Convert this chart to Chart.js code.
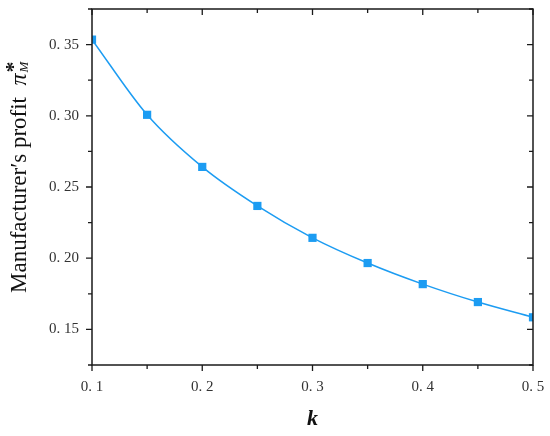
<!DOCTYPE html>
<html>
<head>
<meta charset="utf-8">
<script src="https://cdn.jsdelivr.net/npm/chart.js@4.4.1/dist/chart.umd.min.js"></script>
<style>
  html, body { margin: 0; padding: 0; background: #fff; }
  #wrap { width: 550px; height: 436px; }
</style>
</head>
<body>
<div id="wrap"><canvas id="profitChart"></canvas></div>
<script>
// k values and manufacturer's profit
var kValues = [0.1, 0.15, 0.2, 0.25, 0.3, 0.35, 0.4, 0.45, 0.5];
var profit = [0.3535, 0.3007, 0.2641, 0.2367, 0.2143, 0.1966, 0.1818, 0.1692, 0.1585];

var xTickValues = [0.1, 0.2, 0.3, 0.4, 0.5];
var xTickLabels = ['0. 1', '0. 2', '0. 3', '0. 4', '0. 5'];
var yTickValues = [0.15, 0.2, 0.25, 0.3, 0.35];
var yTickLabels = ['0. 15', '0. 20', '0. 25', '0. 30', '0. 35'];

var lineColor = '#1c9cf2';

function labelFor(v, values, labels) {
  for (var i = 0; i < values.length; i++) {
    if (Math.abs(values[i] - v) < 1e-6) return labels[i];
  }
  return '';
}

// box frame + tick marks (major longer, minor shorter) + y title with sub/superscript
var framePlugin = {
  id: 'frame',
  afterDraw: function (chart) {
    var ctx = chart.ctx, a = chart.chartArea;
    var x = chart.scales.x, y = chart.scales.y;
    ctx.save();
    ctx.strokeStyle = '#1a1a1a';
    ctx.lineWidth = 1.5;
    ctx.strokeRect(a.left, a.top, a.right - a.left, a.bottom - a.top);

    ctx.lineWidth = 1.3;
    ctx.beginPath();
    x.ticks.forEach(function (t) {
      var px = x.getPixelForValue(t.value);
      var len = labelFor(t.value, xTickValues, xTickLabels) ? 6 : 4;
      ctx.moveTo(px, a.bottom); ctx.lineTo(px, a.bottom + len);
      ctx.moveTo(px, a.top); ctx.lineTo(px, a.top + len);
    });
    y.ticks.forEach(function (t) {
      var py = y.getPixelForValue(t.value);
      var len = labelFor(t.value, yTickValues, yTickLabels) ? 6 : 4;
      ctx.moveTo(a.left, py); ctx.lineTo(a.left - len, py);
      ctx.moveTo(a.right, py); ctx.lineTo(a.right - len, py);
    });
    ctx.stroke();

    // y axis title
    ctx.translate(26, 293);
    ctx.rotate(-Math.PI / 2);
    ctx.fillStyle = '#111';
    ctx.textAlign = 'left';
    ctx.textBaseline = 'alphabetic';
    ctx.font = '23px "Liberation Serif"';
    var main = 'Manufacturer\u2032s profit  ';
    ctx.fillText(main, 0, 0);
    var w = ctx.measureText(main).width;
    ctx.font = 'italic 24px "Liberation Serif"';
    ctx.fillText('\u03C0', w, 0);
    w += ctx.measureText('\u03C0').width + 1;
    ctx.font = 'bold 22px "Liberation Serif"';
    ctx.fillText('*', w, -6);
    ctx.font = 'italic 13px "Liberation Serif"';
    ctx.fillText('M', w, 2);
    ctx.restore();
  }
};

var ctx = document.getElementById('profitChart').getContext('2d');
var profitChart = new Chart(ctx, {
  type: 'line',
  data: {
    datasets: [{
      data: kValues.map(function (k, i) { return { x: k, y: profit[i] }; }),
      borderColor: lineColor,
      backgroundColor: lineColor,
      borderWidth: 1.5,
      cubicInterpolationMode: 'monotone',
      pointStyle: 'rect',
      pointRadius: 5.8,
      pointHoverRadius: 5.8,
      pointBorderWidth: 0,
      clip: 0
    }]
  },
  options: {
    responsive: true,
    maintainAspectRatio: false,
    animation: false,
    layout: { padding: { left: 0, right: 17, top: 9, bottom: 0 } },
    plugins: { legend: { display: false }, tooltip: { enabled: false } },
    scales: {
      x: {
        type: 'linear',
        min: 0.1,
        max: 0.5,
        afterFit: function (s) { s.height = 71; },
        grid: { drawOnChartArea: false, tickLength: 8, tickColor: 'transparent' },
        border: { display: false },
        ticks: {
          stepSize: 0.05,
          padding: 5,
          autoSkip: false,
          maxRotation: 0,
          color: '#333',
          font: { family: 'Liberation Serif', size: 15 },
          callback: function (v) { return labelFor(v, xTickValues, xTickLabels); }
        },
        title: {
          display: true,
          text: 'k',
          color: '#111',
          padding: { top: 0, bottom: 3 },
          font: { family: 'Liberation Serif', size: 22, style: 'italic', weight: 'bold' }
        }
      },
      y: {
        min: 0.125,
        max: 0.375,
        afterFit: function (s) { s.width = 92; s.paddingTop = 0; s.paddingBottom = 0; },
        grid: { drawOnChartArea: false, tickLength: 8, tickColor: 'transparent' },
        border: { display: false },
        ticks: {
          stepSize: 0.025,
          padding: 5,
          autoSkip: false,
          color: '#333',
          font: { family: 'Liberation Serif', size: 15 },
          callback: function (v) { return labelFor(v, yTickValues, yTickLabels); }
        }
      }
    }
  },
  plugins: [framePlugin]
});
</script>
</body>
</html>
